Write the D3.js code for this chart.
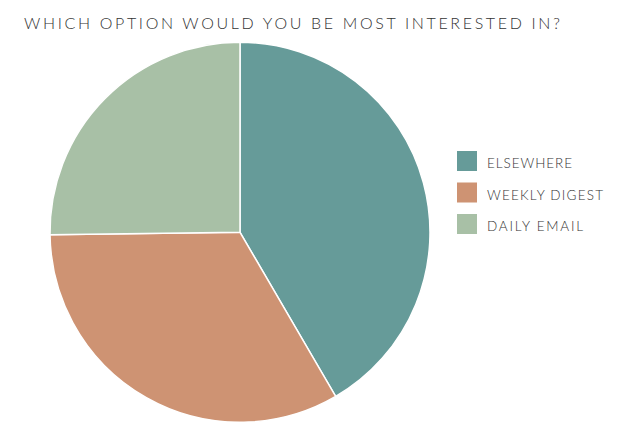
<!DOCTYPE html>
<html><head><meta charset="utf-8">
<script src="https://cdn.jsdelivr.net/npm/d3@7"></script>
<style>
html,body{margin:0;padding:0;background:#fff;}
svg{display:block;}
text{font-family:Lato,"Open Sans",sans-serif;fill:#333;font-weight:300;}
</style></head>
<body>
<svg id="c" width="640" height="436"></svg>
<script>
const title = "WHICH OPTION WOULD YOU BE MOST INTERESTED IN?";
const categories = ["ELSEWHERE", "WEEKLY DIGEST", "DAILY EMAIL"];
const values = [41.6, 33.2, 25.2];
const colors = ["#669b99", "#ce9373", "#a8c0a6"];
const legendWidths = [85, 116, 96];

const svg = d3.select("#c");
svg.append("text").attr("x", 24).attr("y", 28.5)
  .attr("font-size", 16).attr("textLength", 536).attr("lengthAdjust", "spacing")
  .text(title);

const data = categories.map((c, i) => ({c, v: values[i], col: colors[i]}));
const pie = d3.pie().sort(null).value(d => d.v);
const arc = d3.arc().innerRadius(0).outerRadius(190);
const g = svg.append("g").attr("transform", "translate(240,232.3)");
g.selectAll("path").data(pie(data)).join("path")
  .attr("d", arc).attr("fill", d => d.data.col)
  .attr("stroke", "#fff").attr("stroke-width", 1.5);

const y = d3.scalePoint().domain(categories).range([151, 214]);
const lg = svg.append("g");
lg.selectAll("rect").data(data).join("rect")
  .attr("x", 457).attr("y", d => y(d.c)).attr("width", 20).attr("height", 20)
  .attr("fill", d => d.col);
lg.selectAll("text").data(data).join("text")
  .attr("x", 487).attr("y", d => y(d.c) + 17.3)
  .attr("font-size", 13.5)
  .attr("textLength", (d, i) => legendWidths[i]).attr("lengthAdjust", "spacing")
  .text(d => d.c);
</script>
</body></html>
